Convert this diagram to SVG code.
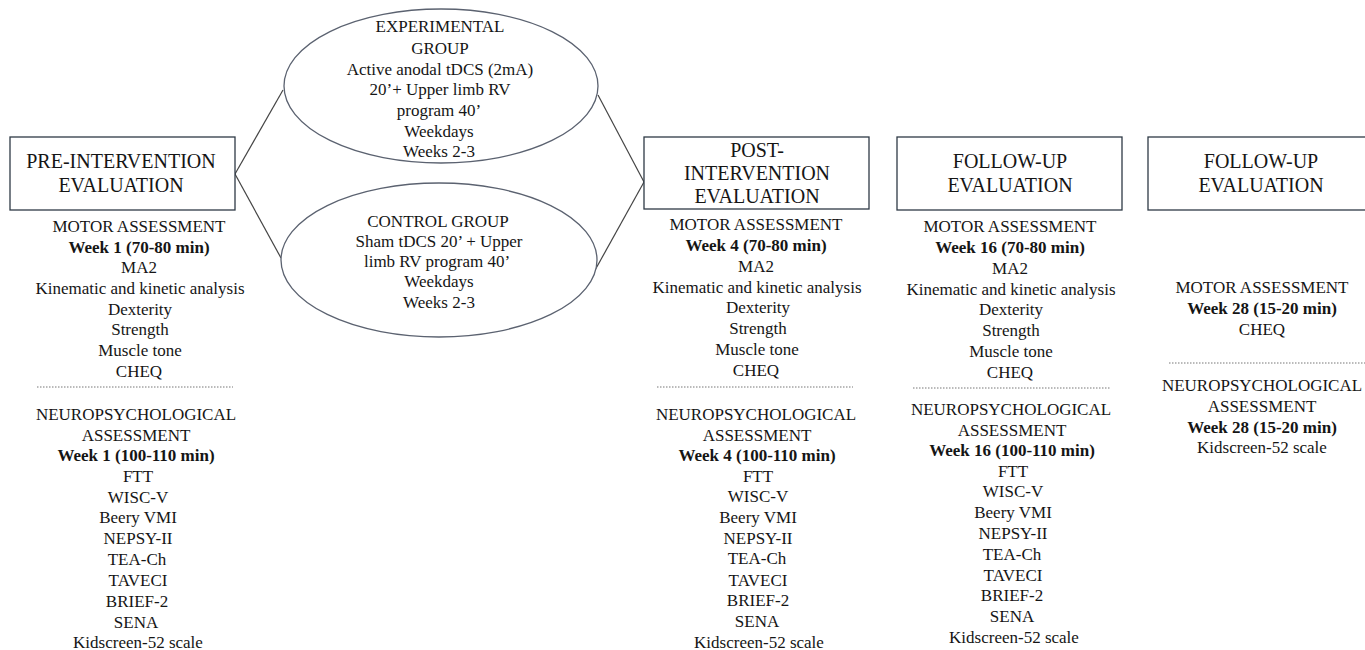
<svg xmlns="http://www.w3.org/2000/svg" width="1365" height="650" viewBox="0 0 1365 650">
<style>
text{font-family:"Liberation Serif","Times New Roman",serif;fill:#151515;text-anchor:middle}
.h{font-size:20px}
.t{font-size:17px}
.b{font-size:17px;font-weight:bold}
.box{fill:#fff;stroke:#2e3a46;stroke-width:1.3}
.ell{fill:#fff;stroke:#5b6270;stroke-width:1.3}
.con{stroke:#444;stroke-width:1.2;fill:none}
.dot{stroke:#777;stroke-width:1;stroke-dasharray:1.5 1.5}
</style>
<rect width="1365" height="650" fill="#fff"/>

<g id="connectors">
<line class="con" x1="235" y1="174" x2="283" y2="90"/>
<line class="con" x1="235" y1="174" x2="281" y2="258"/>
<line class="con" x1="598" y1="95" x2="644" y2="182"/>
<line class="con" x1="594" y1="272" x2="644" y2="182"/>
</g>

<g id="pre-intervention">
<rect class="box" x="10" y="137" width="225" height="73"/>
<text class="h" x="121" y="168">PRE-INTERVENTION</text>
<text class="h" x="121" y="192">EVALUATION</text>
</g>

<g id="experimental-group">
<ellipse class="ell" cx="441" cy="86" rx="157" ry="77"/>
<text class="t" x="440" y="32">EXPERIMENTAL</text>
<text class="t" x="440" y="54">GROUP</text>
<text class="t" x="440" y="75">Active anodal tDCS (2mA)</text>
<text class="t" x="440" y="95">20’+ Upper limb RV</text>
<text class="t" x="439" y="116">program 40’</text>
<text class="t" x="439" y="137">Weekdays</text>
<text class="t" x="439" y="157">Weeks 2-3</text>
</g>

<g id="control-group">
<ellipse class="ell" cx="439" cy="260" rx="158" ry="77"/>
<text class="t" x="438" y="227">CONTROL GROUP</text>
<text class="t" x="439" y="247">Sham tDCS 20’ + Upper</text>
<text class="t" x="437" y="267">limb RV program 40’</text>
<text class="t" x="439" y="287">Weekdays</text>
<text class="t" x="439" y="308">Weeks 2-3</text>
</g>

<g id="post-intervention">
<rect class="box" x="644" y="137" width="225" height="72"/>
<text class="h" x="757" y="157">POST-</text>
<text class="h" x="757" y="180">INTERVENTION</text>
<text class="h" x="757" y="203">EVALUATION</text>
</g>

<g id="follow-up-1">
<rect class="box" x="897" y="137" width="225" height="73"/>
<text class="h" x="1010" y="168">FOLLOW-UP</text>
<text class="h" x="1010" y="192">EVALUATION</text>
</g>

<g id="follow-up-2">
<rect class="box" x="1148" y="137" width="226" height="73"/>
<text class="h" x="1261" y="168">FOLLOW-UP</text>
<text class="h" x="1261" y="192">EVALUATION</text>
</g>

<g id="pre-assessments">
<text class="t" x="139" y="232">MOTOR ASSESSMENT</text>
<text class="b" x="139" y="253">Week 1 (70-80 min)</text>
<text class="t" x="139" y="273">MA2</text>
<text class="t" x="140" y="294">Kinematic and kinetic analysis</text>
<text class="t" x="140" y="315">Dexterity</text>
<text class="t" x="140" y="335">Strength</text>
<text class="t" x="140" y="356">Muscle tone</text>
<text class="t" x="139" y="377">CHEQ</text>
<line class="dot" x1="37" y1="387" x2="233" y2="387"/>
<text class="t" x="136" y="420">NEUROPSYCHOLOGICAL</text>
<text class="t" x="136" y="441">ASSESSMENT</text>
<text class="b" x="136" y="461">Week 1 (100-110 min)</text>
<text class="t" x="138" y="482">FTT</text>
<text class="t" x="138" y="503">WISC-V</text>
<text class="t" x="138" y="523">Beery VMI</text>
<text class="t" x="138" y="544">NEPSY-II</text>
<text class="t" x="137" y="565">TEA-Ch</text>
<text class="t" x="138" y="586">TAVECI</text>
<text class="t" x="137" y="607">BRIEF-2</text>
<text class="t" x="136" y="628">SENA</text>
<text class="t" x="138" y="648">Kidscreen-52 scale</text>
</g>

<g id="post-assessments">
<text class="t" x="756" y="230">MOTOR ASSESSMENT</text>
<text class="b" x="756" y="251">Week 4 (70-80 min)</text>
<text class="t" x="756" y="272">MA2</text>
<text class="t" x="757" y="293">Kinematic and kinetic analysis</text>
<text class="t" x="758" y="313">Dexterity</text>
<text class="t" x="758" y="334">Strength</text>
<text class="t" x="757" y="355">Muscle tone</text>
<text class="t" x="756" y="376">CHEQ</text>
<line class="dot" x1="657" y1="387" x2="853" y2="387"/>
<text class="t" x="756" y="420">NEUROPSYCHOLOGICAL</text>
<text class="t" x="757" y="441">ASSESSMENT</text>
<text class="b" x="757" y="461">Week 4 (100-110 min)</text>
<text class="t" x="758" y="482">FTT</text>
<text class="t" x="758" y="502">WISC-V</text>
<text class="t" x="758" y="523">Beery VMI</text>
<text class="t" x="758" y="544">NEPSY-II</text>
<text class="t" x="757" y="564">TEA-Ch</text>
<text class="t" x="758" y="586">TAVECI</text>
<text class="t" x="758" y="606">BRIEF-2</text>
<text class="t" x="757" y="627">SENA</text>
<text class="t" x="759" y="648">Kidscreen-52 scale</text>
</g>

<g id="follow-up-1-assessments">
<text class="t" x="1010" y="232">MOTOR ASSESSMENT</text>
<text class="b" x="1010" y="253">Week 16 (70-80 min)</text>
<text class="t" x="1010" y="274">MA2</text>
<text class="t" x="1011" y="295">Kinematic and kinetic analysis</text>
<text class="t" x="1011" y="315">Dexterity</text>
<text class="t" x="1011" y="336">Strength</text>
<text class="t" x="1011" y="357">Muscle tone</text>
<text class="t" x="1010" y="378">CHEQ</text>
<line class="dot" x1="913" y1="388" x2="1110" y2="388"/>
<text class="t" x="1011" y="415">NEUROPSYCHOLOGICAL</text>
<text class="t" x="1012" y="436">ASSESSMENT</text>
<text class="b" x="1012" y="456">Week 16 (100-110 min)</text>
<text class="t" x="1013" y="477">FTT</text>
<text class="t" x="1013" y="497">WISC-V</text>
<text class="t" x="1013" y="518">Beery VMI</text>
<text class="t" x="1013" y="539">NEPSY-II</text>
<text class="t" x="1012" y="560">TEA-Ch</text>
<text class="t" x="1013" y="581">TAVECI</text>
<text class="t" x="1012" y="601">BRIEF-2</text>
<text class="t" x="1012" y="622">SENA</text>
<text class="t" x="1014" y="643">Kidscreen-52 scale</text>
</g>

<g id="follow-up-2-assessments">
<text class="t" x="1262" y="293">MOTOR ASSESSMENT</text>
<text class="b" x="1262" y="314">Week 28 (15-20 min)</text>
<text class="t" x="1262" y="335">CHEQ</text>
<line class="dot" x1="1169" y1="363" x2="1365" y2="363"/>
<text class="t" x="1262" y="391">NEUROPSYCHOLOGICAL</text>
<text class="t" x="1262" y="412">ASSESSMENT</text>
<text class="b" x="1262" y="433">Week 28 (15-20 min)</text>
<text class="t" x="1262" y="453">Kidscreen-52 scale</text>
</g>
</svg>
